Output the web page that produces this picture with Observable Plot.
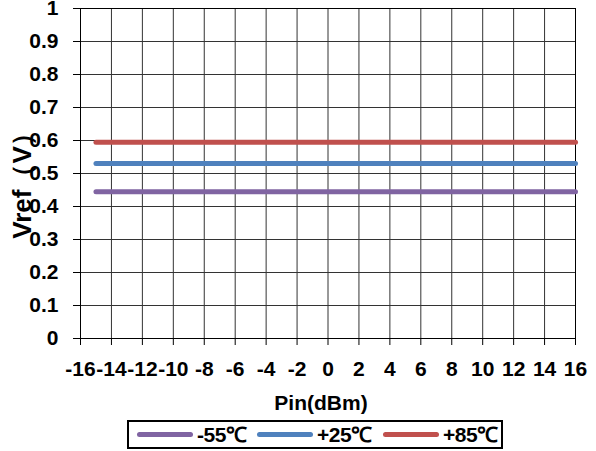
<!DOCTYPE html>
<html>
<head>
<meta charset="utf-8">
<script src="https://cdn.jsdelivr.net/npm/d3@7"></script>
<script src="https://cdn.jsdelivr.net/npm/@observablehq/plot@0.6"></script>
<style>
  body { margin: 0; background: #fff; font-family: "Liberation Sans", Arial, sans-serif; }
  #wrap { position: relative; width: 596px; height: 451px; }
  #legend { position: absolute; left: 127px; top: 420px; width: 376px; height: 29px; box-sizing: border-box;
    border: 2px solid #000; font-weight: bold; font-size: 21px; }
  .item { position: absolute; top: 0; height: 25px; display: flex; align-items: center; white-space: nowrap; }
  .sw { width: 56px; height: 5px; border-radius: 3px; margin-right: 4px; }
  .lab { letter-spacing: -0.5px; line-height: 25px; }
</style>
</head>
<body>
<div id="wrap"><div id="chart"></div><div id="legend"></div></div>
<script>
const xTicks = [-16, -14, -12, -10, -8, -6, -4, -2, 0, 2, 4, 6, 8, 10, 12, 14, 16];
const yTicks = [0, 0.1, 0.2, 0.3, 0.4, 0.5, 0.6, 0.7, 0.8, 0.9, 1];
const pin = [-15, -10, -5, 0, 5, 10, 16];
const vrefM55 = [0.445, 0.445, 0.445, 0.445, 0.445, 0.445, 0.445];
const vrefP25 = [0.530, 0.530, 0.530, 0.530, 0.530, 0.530, 0.530];
const vrefP85 = [0.595, 0.595, 0.595, 0.595, 0.595, 0.595, 0.595];
const seriesNames = ["-55℃", "+25℃", "+85℃"];
const seriesColors = ["#8064A2", "#4F81BD", "#C0504D"];
const seriesValues = [vrefM55, vrefP25, vrefP85];

const data = [];
seriesNames.forEach((name, i) => pin.forEach((p, j) => data.push({series: name, pin: p, vref: seriesValues[i][j]})));

const chart = Plot.plot({
  width: 596, height: 415,
  marginTop: 8, marginRight: 21, marginBottom: 77, marginLeft: 80,
  style: {fontFamily: "Liberation Sans, Arial, sans-serif", fontSize: "21px", fontWeight: "bold", color: "#000", background: "#fff", overflow: "visible"},
  x: {domain: [-16, 16]},
  y: {domain: [0, 1]},
  color: {domain: seriesNames, range: seriesColors},
  marks: [
    Plot.gridX(xTicks, {stroke: "#333", strokeOpacity: 1, strokeWidth: 1}),
    Plot.gridY(yTicks, {stroke: "#333", strokeOpacity: 1, strokeWidth: 1}),
    Plot.frame({stroke: "#000", strokeWidth: 1}),
    Plot.axisX(xTicks, {tickSize: 7, tickPadding: 16, tickFormat: d => String(d), label: null, stroke: "#000", fontSize: 21}),
    Plot.axisY(yTicks, {tickSize: 7, tickPadding: 15, tickFormat: d => String(d), label: null, stroke: "#000", fontSize: 21}),
    Plot.lineY(data, {x: "pin", y: "vref", z: "series", stroke: "series", strokeWidth: 5, strokeLinecap: "round"}),
    Plot.text(["Pin(dBm)"], {frameAnchor: "bottom", textAnchor: "middle", dx: -7, dy: 71, fontSize: 21, fontWeight: "bold", fill: "#000"}),
    Plot.text(["Vref（V）"], {frameAnchor: "left", textAnchor: "middle", rotate: -90, dx: -58, dy: 6, fontSize: 26, fontWeight: "bold", fill: "#000"})
  ]
});
document.getElementById("chart").appendChild(chart);

const legend = document.getElementById("legend");
const itemLefts = [8, 128, 254];
seriesNames.forEach((name, i) => {
  const item = document.createElement("div");
  item.className = "item";
  item.style.left = itemLefts[i] + "px";
  const sw = document.createElement("div");
  sw.className = "sw";
  sw.style.background = seriesColors[i];
  const lab = document.createElement("span");
  lab.className = "lab";
  lab.textContent = name;
  item.appendChild(sw); item.appendChild(lab);
  legend.appendChild(item);
});
</script>
</body>
</html>
